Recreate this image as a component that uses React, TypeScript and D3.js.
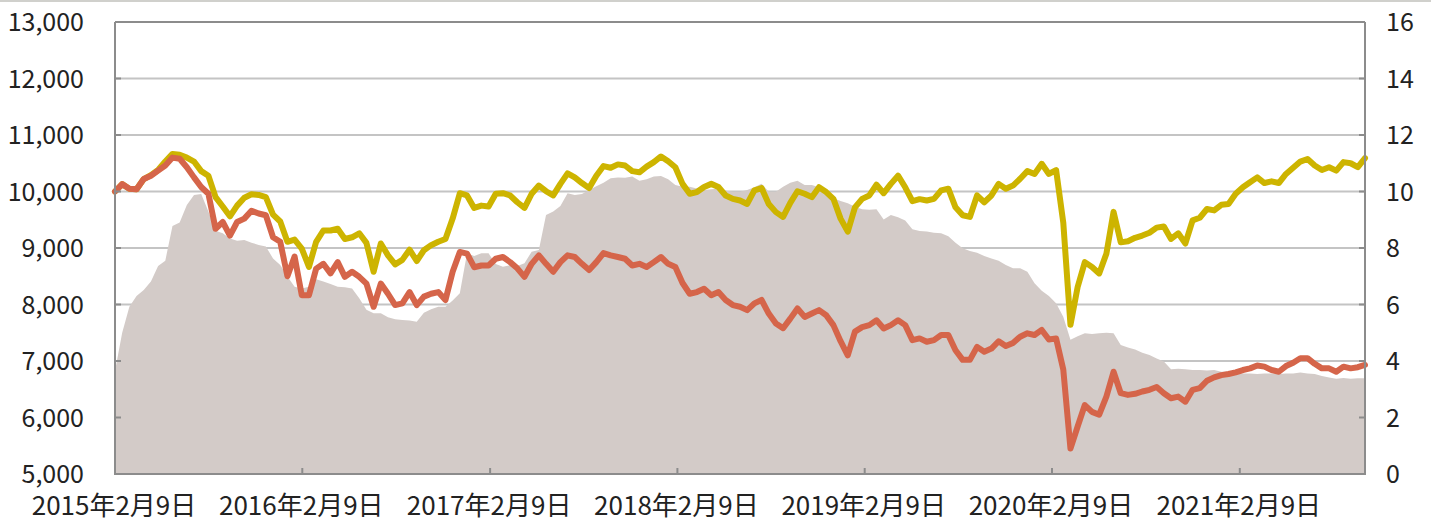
import React, { useMemo } from 'react';
import * as d3 from 'd3';

// two-week observations starting 2015-02-09
const startDate = new Date(2015, 1, 9);
const stepDays = 14;

// 分配金再投資ベース (left axis)
const reinvestValues = [
  10000, 10130, 10050, 10040, 10220, 10290, 10380, 10530, 10665, 10650,
  10600, 10530, 10360, 10280, 9900, 9735, 9560, 9750, 9890, 9950,
  9940, 9900, 9590, 9470, 9110, 9150, 8990, 8665, 9110, 9310,
  9310, 9340, 9160, 9190, 9260, 9090, 8580, 9080, 8870, 8710,
  8790, 8970, 8770, 8960, 9050, 9110, 9160, 9520, 9970, 9930,
  9710, 9750, 9735, 9960, 9970, 9930, 9810, 9710, 9960, 10105,
  10005, 9930, 10135, 10320, 10250, 10150, 10060, 10280, 10450, 10420,
  10480, 10460, 10360, 10340, 10440, 10520, 10620, 10535, 10430, 10135,
  9960, 9990, 10080, 10135, 10080, 9930, 9870, 9840, 9780, 10020,
  10060, 9780, 9635, 9550, 9800, 10005, 9960, 9900, 10075, 9990,
  9870, 9520, 9290, 9720, 9870, 9930, 10120, 9970, 10135, 10280,
  10075, 9830, 9865, 9840, 9870, 10020, 10050, 9720, 9580, 9550,
  9930, 9810, 9930, 10135, 10050, 10105, 10225, 10360, 10310, 10490,
  10310, 10380, 9450, 7640, 8310, 8750, 8665, 8550, 8900, 9640,
  9100, 9120, 9180, 9220, 9270, 9360, 9380, 9160, 9260, 9080,
  9490, 9535, 9690, 9665, 9765, 9780, 9960, 10075, 10165, 10250,
  10150, 10180, 10150, 10310, 10420, 10530, 10575, 10460, 10380, 10430,
  10370, 10520, 10500, 10430, 10590,
];

// 基準価額 (left axis)
const navValues = [
  10000, 10130, 10050, 10040, 10220, 10280, 10370, 10460, 10600, 10580,
  10430, 10250, 10080, 9960, 9340, 9460, 9220, 9460, 9520, 9660,
  9610, 9580, 9190, 9110, 8500, 8850, 8165, 8165, 8635, 8720,
  8550, 8750, 8490, 8580, 8490, 8370, 7960, 8370, 8190, 7990,
  8020, 8220, 7990, 8140, 8190, 8220, 8080, 8580, 8930, 8900,
  8660, 8690, 8690, 8810, 8840, 8750, 8640, 8490, 8720, 8870,
  8720, 8580, 8750, 8870, 8840, 8720, 8610, 8750, 8910, 8870,
  8840, 8810, 8690, 8720, 8665, 8750, 8840, 8720, 8665, 8380,
  8190, 8220, 8280, 8165, 8220, 8080, 7990, 7960, 7900, 8020,
  8080, 7840, 7665, 7580, 7750, 7930, 7780, 7840, 7900, 7810,
  7635, 7350, 7100, 7520, 7600, 7635, 7720, 7575, 7635, 7720,
  7635, 7370, 7400, 7340, 7370, 7460, 7460, 7190, 7020, 7020,
  7250, 7165, 7220, 7350, 7265, 7320, 7430, 7490, 7460, 7550,
  7380, 7400, 6850, 5450, 5840, 6220, 6100, 6050, 6370, 6810,
  6430, 6400, 6420, 6460, 6490, 6540, 6430, 6340, 6370, 6280,
  6490, 6520, 6650, 6710, 6750, 6770, 6800, 6840, 6870, 6920,
  6900, 6840, 6810, 6910, 6970, 7050, 7050, 6950, 6870, 6870,
  6810, 6900, 6870, 6890, 6930,
];

// 純資産総額 (right axis)
const assetValues = [
  3.65, 5.0, 5.92, 6.3, 6.51, 6.81, 7.36, 7.55, 8.78, 8.9,
  9.52, 9.88, 9.91, 9.29, 8.61, 8.52, 8.34, 8.26, 8.28, 8.19,
  8.11, 8.05, 7.63, 7.4, 6.99, 6.63, 6.57, 6.63, 6.89, 6.81,
  6.73, 6.63, 6.61, 6.57, 6.22, 5.81, 5.69, 5.69, 5.55, 5.48,
  5.45, 5.43, 5.39, 5.71, 5.83, 5.92, 5.92, 6.14, 6.4, 7.81,
  7.72, 7.81, 7.81, 7.43, 7.34, 7.39, 7.36, 7.46, 7.87, 7.93,
  9.17, 9.29, 9.49, 9.94, 9.88, 9.91, 10.05, 10.19, 10.31, 10.47,
  10.5, 10.49, 10.53, 10.38, 10.43, 10.53, 10.55, 10.43, 10.23, 10.17,
  10.17, 10.11, 10.05, 10.08, 10.1, 10.03, 9.99, 9.99, 10.05, 10.15,
  10.27, 9.99, 9.99, 10.17, 10.31, 10.38, 10.23, 10.23, 10.15, 10.03,
  9.76, 9.66, 9.58, 9.46, 9.37, 9.35, 9.37, 9.01, 9.17, 9.09,
  8.97, 8.66, 8.6, 8.58, 8.54, 8.52, 8.42, 8.19, 7.99, 7.89,
  7.83, 7.72, 7.63, 7.55, 7.4, 7.28, 7.28, 7.16, 6.75, 6.49,
  6.3, 6.04, 5.57, 4.75, 4.88, 4.98, 4.96, 4.98, 5.0, 4.98,
  4.57, 4.48, 4.41, 4.29, 4.21, 4.09, 3.98, 3.71, 3.73, 3.71,
  3.68, 3.68, 3.66, 3.68, 3.62, 3.62, 3.59, 3.56, 3.56, 3.54,
  3.56, 3.56, 3.54, 3.56, 3.56, 3.59, 3.56, 3.54, 3.47, 3.42,
  3.37, 3.4, 3.37, 3.39, 3.39,
];

const leftTicks = [5000, 6000, 7000, 8000, 9000, 10000, 11000, 12000, 13000];
const rightTicks = [0, 2, 4, 6, 8, 10, 12, 14, 16];
const tickYears = [2015, 2016, 2017, 2018, 2019, 2020, 2021];

const W = 1431;
const H = 518;
const margin = { left: 115, right: 66, top: 22, bottom: 44 };
const font = '"Noto Sans CJK JP", "Noto Sans", sans-serif';

const App = () => {
  const dates = useMemo(
    () => reinvestValues.map((_, i) => d3.timeDay.offset(startDate, i * stepDays)),
    []
  );

  const x = d3.scaleTime()
    .domain([dates[0], dates[dates.length - 1]])
    .range([margin.left, W - margin.right]);
  const yLeft = d3.scaleLinear().domain([5000, 13000]).range([H - margin.bottom, margin.top]);
  const yRight = d3.scaleLinear().domain([0, 16]).range([H - margin.bottom, margin.top]);

  const area = d3.area<number>()
    .x((_, i) => x(dates[i]))
    .y0(yRight(0))
    .y1(d => yRight(d));
  const line = d3.line<number>()
    .x((_, i) => x(dates[i]))
    .y(d => yLeft(d));

  const x0 = margin.left;
  const x1 = W - margin.right;
  const yb = H - margin.bottom;
  const axisColor = '#8c8c8c';

  return (
    <svg width={W} height={H} style={{ position: 'absolute', left: 0, top: 0, background: '#fff' }}>
      <line x1={0} x2={W} y1={1} y2={1} stroke="#d0d0cc" strokeWidth={2} />
      {leftTicks.map(t => (
        <line key={'g' + t} x1={x0} x2={x1} y1={yLeft(t)} y2={yLeft(t)} stroke="#c4c4c4" strokeWidth={2} />
      ))}
      <path d={area(assetValues) || ''} fill="#d3cbc8" />
      <path d={line(reinvestValues) || ''} fill="none" stroke="#cdb400" strokeWidth={6} strokeLinejoin="round" strokeLinecap="round" />
      <path d={line(navValues) || ''} fill="none" stroke="#d5654a" strokeWidth={6} strokeLinejoin="round" strokeLinecap="round" />

      {/* frame */}
      <line x1={x0} x2={x0} y1={margin.top} y2={yb} stroke={axisColor} strokeWidth={2} />
      <line x1={x1} x2={x1} y1={margin.top} y2={yb} stroke={axisColor} strokeWidth={2} />
      <line x1={x0} x2={x1} y1={margin.top} y2={margin.top} stroke={axisColor} strokeWidth={2} />
      <line x1={x0 - 1} x2={x1 + 1} y1={yb} y2={yb} stroke={axisColor} strokeWidth={2} />

      {leftTicks.map(t => (
        <g key={'l' + t}>
          <line x1={x0} x2={x0 + 6} y1={yLeft(t)} y2={yLeft(t)} stroke={axisColor} strokeWidth={2} />
          <text x={84} y={yLeft(t)} dy="0.36em" textAnchor="end" fontFamily={font} fontSize={25} fill="#222">
            {d3.format(',')(t)}
          </text>
        </g>
      ))}
      {rightTicks.map(t => (
        <g key={'r' + t}>
          <line x1={x1 - 6} x2={x1} y1={yRight(t)} y2={yRight(t)} stroke={axisColor} strokeWidth={2} />
          <text x={1386} y={yRight(t)} dy="0.36em" textAnchor="start" fontFamily={font} fontSize={25} fill="#222">
            {t}
          </text>
        </g>
      ))}
      {tickYears.map(yr => {
        const px = x(new Date(yr, 1, 9));
        return (
          <g key={'x' + yr}>
            <line x1={px} x2={px} y1={yb - 6} y2={yb} stroke={axisColor} strokeWidth={2} />
            <text x={px - 1} y={515} textAnchor="middle" fontFamily={font} fontSize={26} fill="#222">
              {`${yr}年2月9日`}
            </text>
          </g>
        );
      })}
    </svg>
  );
};

export default App;
